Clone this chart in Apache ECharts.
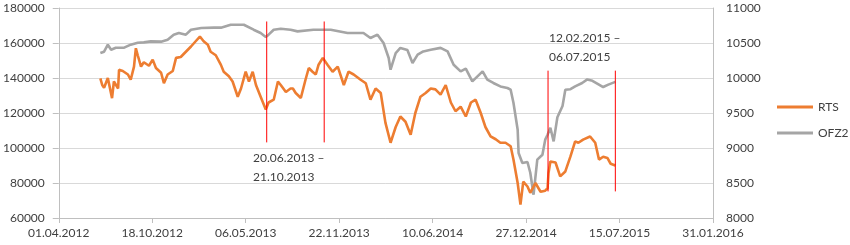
<!DOCTYPE html>
<html><head><meta charset="utf-8">
<script src="https://cdn.jsdelivr.net/npm/echarts@6/dist/echarts.min.js"></script>
<style>html,body{margin:0;padding:0;background:#fff}#c{width:850px;height:245px}</style>
</head><body><div id="c"></div>
<script>
var seriesNames = ['RTS', 'OFZ2'];
var xTickStart = '2012-04-01';
var xTickEnd = '2016-01-31';
var xTickStepDays = 200;
var leftTicks = [60000, 180000, 20000];
var rightTicks = [8000, 11000, 500];

var rtsDates = ['2012-06-29','2012-07-03','2012-07-07','2012-07-15','2012-07-24','2012-07-28','2012-08-06','2012-08-08','2012-08-16','2012-08-27','2012-09-02','2012-09-09','2012-09-13','2012-09-17','2012-09-24','2012-09-30','2012-10-11','2012-10-19','2012-10-26','2012-11-06','2012-11-12','2012-11-20','2012-12-01','2012-12-08','2012-12-18','2012-12-29','2013-01-09','2013-01-19','2013-01-28','2013-02-05','2013-02-14','2013-02-20','2013-03-03','2013-03-14','2013-03-20','2013-03-31','2013-04-08','2013-04-19','2013-04-26','2013-05-06','2013-05-13','2013-05-21','2013-05-28','2013-06-07','2013-06-18','2013-06-24','2013-07-05','2013-07-14','2013-07-20','2013-07-31','2013-08-04','2013-08-10','2013-08-15','2013-08-21','2013-09-01','2013-09-11','2013-09-18','2013-09-26','2013-10-03','2013-10-09','2013-10-18','2013-10-28','2013-11-08','2013-11-19','2013-12-02','2013-12-12','2013-12-23','2014-01-07','2014-01-18','2014-01-28','2014-02-08','2014-02-19','2014-03-01','2014-03-12','2014-03-23','2014-04-02','2014-04-13','2014-04-24','2014-05-04','2014-05-15','2014-05-26','2014-06-06','2014-06-16','2014-06-27','2014-07-08','2014-07-19','2014-07-29','2014-08-09','2014-08-20','2014-08-31','2014-09-10','2014-09-21','2014-10-01','2014-10-12','2014-10-23','2014-11-02','2014-11-13','2014-11-24','2014-11-30','2014-12-09','2014-12-15','2014-12-21','2014-12-30','2015-01-05','2015-01-16','2015-01-27','2015-02-06','2015-02-11','2015-02-13','2015-02-17','2015-02-28','2015-03-10','2015-03-21','2015-04-01','2015-04-11','2015-04-18','2015-04-28','2015-05-13','2015-05-24','2015-06-01','2015-06-10','2015-06-19','2015-06-26','2015-07-06'];
var rtsValues = [139800,136000,134400,140000,128500,138000,134000,144700,144000,142000,139000,146500,157000,153000,146500,149000,147000,150500,145700,143000,137000,142000,144000,151500,152000,155000,158000,161000,163700,161000,159000,155000,153000,147500,143600,141000,138000,129300,134000,143600,138000,143600,136000,129300,122000,126000,127600,138000,136000,132000,132000,134000,134000,131400,128600,139000,145700,143600,142000,147600,151500,147600,143600,146500,136000,143600,142000,139000,137000,127600,134000,131400,114500,103000,112000,118000,115000,107600,120000,129300,131400,134000,133500,130500,136000,126000,121000,123600,118000,126000,127600,120000,112000,106700,105000,103000,103000,101000,93400,80000,67600,80800,78000,74400,80000,75000,75600,77000,85700,92300,91700,83800,86600,95200,103800,103000,104800,106600,103000,93400,95000,94300,91000,90000];

var ofzDates = ['2012-06-29','2012-07-07','2012-07-15','2012-07-22','2012-08-01','2012-08-19','2012-09-02','2012-09-17','2012-09-30','2012-10-15','2012-11-06','2012-11-20','2012-12-03','2012-12-14','2012-12-29','2013-01-09','2013-01-31','2013-02-27','2013-03-14','2013-04-04','2013-05-02','2013-05-23','2013-06-07','2013-06-18','2013-06-24','2013-07-05','2013-07-20','2013-08-10','2013-08-25','2013-09-28','2013-11-04','2013-12-10','2014-01-13','2014-01-28','2014-02-12','2014-02-25','2014-03-08','2014-03-12','2014-03-23','2014-04-02','2014-04-17','2014-04-28','2014-05-09','2014-05-21','2014-06-06','2014-06-27','2014-07-12','2014-07-25','2014-08-09','2014-08-20','2014-09-03','2014-09-14','2014-09-25','2014-10-05','2014-10-18','2014-11-02','2014-11-17','2014-11-24','2014-11-30','2014-12-09','2014-12-11','2014-12-19','2014-12-30','2015-01-05','2015-01-12','2015-01-20','2015-01-31','2015-02-06','2015-02-11','2015-02-17','2015-02-24','2015-03-04','2015-03-15','2015-03-21','2015-04-01','2015-04-11','2015-04-26','2015-05-07','2015-05-18','2015-05-31','2015-06-10','2015-06-21','2015-07-06'];
var ofzValues = [10357,10376,10476,10404,10433,10433,10476,10504,10509,10523,10519,10547,10619,10643,10619,10690,10714,10719,10719,10761,10761,10690,10643,10586,10619,10690,10704,10690,10666,10690,10690,10643,10643,10571,10619,10500,10286,10119,10357,10429,10400,10214,10333,10380,10404,10430,10380,10190,10094,10133,9952,10023,10094,9976,9929,9880,9857,9833,9647,9261,8929,8786,8800,8647,8333,8833,8904,9119,9190,9290,9095,9440,9600,9833,9840,9880,9929,9980,9960,9910,9871,9905,9945];

var periodDates = ['2013-06-20','2013-10-21','2015-02-12','2015-07-06'];
var periodTop = [172300, 172300, 144200, 144200];
var periodBottom = [103200, 103200, 75200, 75200];
var periodLabels = ['20.06.2013 –\n21.10.2013', '12.02.2015 –\n06.07.2015'];

var base = Date.parse(xTickStart + 'T00:00:00Z');
function dayOf(s){ return (Date.parse(s + 'T00:00:00Z') - base) / 86400000; }
function pad(n){ return (n < 10 ? '0' : '') + n; }
function fmt(v){ var d = new Date(base + v * 86400000); return pad(d.getUTCDate()) + '.' + pad(d.getUTCMonth() + 1) + '.' + d.getUTCFullYear(); }
function plain(v){ return String(v); }

var FONT = 'Lato';
var TXT = '#404040';
var chart = echarts.init(document.getElementById('c'), null, {renderer: 'canvas'});

var series = [
  {name: seriesNames[0], type: 'line', yAxisIndex: 0, showSymbol: false, symbol: 'none',
   lineStyle: {color: '#ED7D31', width: 2.6}, itemStyle: {color: '#ED7D31'},
   data: rtsDates.map(function(d, i){ return [dayOf(d), rtsValues[i]]; }), z: 3},
  {name: seriesNames[1], type: 'line', yAxisIndex: 1, showSymbol: false, symbol: 'none',
   lineStyle: {color: '#A5A5A5', width: 2.6}, itemStyle: {color: '#A5A5A5'},
   data: ofzDates.map(function(d, i){ return [dayOf(d), ofzValues[i]]; }), z: 2}
];
periodDates.forEach(function(d, i){
  series.push({type: 'line', yAxisIndex: 0, showSymbol: false, symbol: 'none', silent: true,
    lineStyle: {color: '#FF0000', width: 1}, z: 4,
    data: [[dayOf(d), periodTop[i]], [dayOf(d), periodBottom[i]]]});
});

chart.setOption({
  animation: false,
  grid: {left: 58, right: 137, top: 8, bottom: 27, containLabel: false},
  legend: {
    data: seriesNames, orient: 'vertical', left: 777, top: 101, padding: 0,
    icon: 'rect', itemWidth: 36, itemHeight: 3, itemGap: 14,
    textStyle: {fontFamily: FONT, fontSize: 12, color: TXT, overflow: 'none', width: 60}
  },
  xAxis: {
    type: 'value', min: 0, max: dayOf(xTickEnd), interval: xTickStepDays,
    axisLine: {show: true, lineStyle: {color: '#BFBFBF'}},
    axisTick: {show: true, inside: false, length: 5, lineStyle: {color: '#BFBFBF'}},
    splitLine: {show: false},
    axisLabel: {formatter: fmt, fontFamily: FONT, fontSize: 12, color: TXT, margin: 9}
  },
  yAxis: [
    {type: 'value', min: leftTicks[0], max: leftTicks[1], interval: leftTicks[2], position: 'left',
     axisLine: {show: true, lineStyle: {color: '#BFBFBF'}},
     axisTick: {show: true, inside: false, length: 6, lineStyle: {color: '#BFBFBF'}},
     splitLine: {show: true, lineStyle: {color: '#D9D9D9'}},
     axisLabel: {formatter: plain, fontFamily: FONT, fontSize: 12, color: TXT, margin: 14}},
    {type: 'value', min: rightTicks[0], max: rightTicks[1], interval: rightTicks[2], position: 'right',
     axisLine: {show: true, lineStyle: {color: '#BFBFBF'}},
     axisTick: {show: false},
     splitLine: {show: false},
     axisLabel: {formatter: plain, fontFamily: FONT, fontSize: 12, color: TXT, margin: 13}}
  ],
  graphic: [
    {type: 'text', left: 253, top: 149, style: {text: periodLabels[0], font: '12px ' + FONT, fill: TXT, lineHeight: 18.5}},
    {type: 'text', left: 549, top: 29, style: {text: periodLabels[1], font: '12px ' + FONT, fill: TXT, lineHeight: 18.5}}
  ],
  series: series
});
</script></body></html>
